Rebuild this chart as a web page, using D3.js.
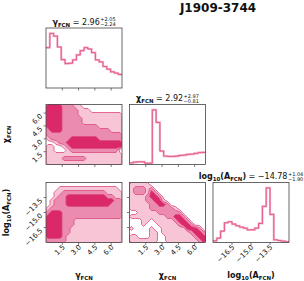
<!DOCTYPE html>
<html lang="en">
<head>
<meta charset="UTF-8">
<title>J1909-3744 corner plot</title>
<script src="https://d3js.org/d3.v7.min.js"></script>
<style>
  body { margin: 0; background: #fff; }
  svg { display: block; }
  text { font-family: "DejaVu Sans", sans-serif; fill: #111; }
</style>
</head>
<body>
<svg id="corner" width="304" height="281"></svg>
<script>
const pulsar = "J1909-3744";

// parameter ranges and ticks
const gammaDomain = [0, 7];
const chiDomain = [0, 7];
const logADomain = [-18, -12];
const gammaTicks = [1.5, 3.0, 4.5, 6.0];
const chiTicks = [1.5, 3.0, 4.5, 6.0];
const logATicks = [-16.5, -15.0, -13.5];

// 1D posteriors, 20 bins over each range (relative counts)
const gammaHist = [122, 165, 157, 124, 86, 74, 75, 85, 100, 113, 122, 118, 107, 85, 79, 65, 57, 49, 45, 41];
const chiHist = [5, 7, 8, 8, 4, 4, 162, 125, 40, 25, 24, 24, 25, 27, 28, 30, 31, 33, 35, 36];
const logAHist = [5, 13, 34, 59, 62, 55, 50, 46, 43, 38, 38, 43, 57, 108, 163, 84, 8, 6, 4, 2];

// median and credible bounds
const medians = [2.96, 2.92, -14.78];
const upper = [2.05, 2.97, 1.04];
const lower = [2.24, 0.81, 1.90];

// 2D credible levels (0 outside, 1..3 inner), rows from top to bottom
const gammaChiGrid = [
  "3333222110000000000",
  "3333222211100000000",
  "3333222211111111111",
  "3333222221111111111",
  "3333222221111111111",
  "3333222222222111111",
  "2333222222222222111",
  "2222222222222222222",
  "1222223333333222222",
  "0012233333333333333",
  "1100123333333333333",
  "1100012222222222220",
  "1111111111111111111",
  "1111222222111111111",
  "1111111111111111111"
];
const gammaLogAGrid = [
  "0000000000000000000",
  "0001111111111111110",
  "0011222222222221111",
  "0012233333333332211",
  "0122233333333333322",
  "0122233333333333222",
  "1222222222222222222",
  "2333222222222222222",
  "3333222222222222222",
  "3333222111111111111",
  "3333222111111111111",
  "3333221111111111111",
  "3333221111111111111",
  "3333211111111111111",
  "2222211111111111111"
];
const chiLogAGrid = [
  "1111100000000000000",
  "1222120000000000000",
  "1222132000000000000",
  "1111233200000000000",
  "1111223310000000000",
  "1111122332000000000",
  "1111122222210000000",
  "0011111222222000000",
  "1111111112233200000",
  "0001101111123320000",
  "0001000111112332000",
  "1000010011111133320",
  "0000011011111112332",
  "1100011001111111233",
  "1111111001111111123"
];

const W = 76, H = 60;
const colX = [46, 129.5, 213];
const rowY = [28, 104.5, 182.5];

const domains = [gammaDomain, chiDomain, logADomain];
const ticks = [gammaTicks, chiTicks, logATicks];
const hists = [gammaHist, chiHist, logAHist];
const grids = { "1-0": gammaChiGrid, "2-0": gammaLogAGrid, "2-1": chiLogAGrid };

const labelParts = [
  [{ t: "γ", b: 1 }, { t: "FCN", b: 1, sub: 1 }],
  [{ t: "χ", b: 1 }, { t: "FCN", b: 1, sub: 1 }],
  [{ t: "log", b: 1 }, { t: "10", b: 1, sub: 1 }, { t: "(A", b: 1 }, { t: "FCN", b: 1, sub: 1 }, { t: ")", b: 1 }]
];

const levelFill = ["#f8c5d7", "#ec8bb0", "#da2868"];
const levelLine = "#dc4a80";
const frameColor = "#444";

const minus = s => s.replace("-", "\u2212");
const fmt = v => minus(d3.format(".1f")(v));
const fmt2 = v => minus(d3.format(".2f")(v));

const svg = d3.select("#corner");

const xScale = i => d3.scaleLinear().domain(domains[i]).range([colX[i], colX[i] + W]);
const yScale = (p, row) => d3.scaleLinear().domain(domains[p]).range([rowY[row] + H, rowY[row]]);

// text with bold parts and subscripts
function mathText(sel, parts, size) {
  let shift = 0;
  parts.forEach(p => {
    const target = p.sub ? size * 0.25 : 0;
    sel.append("tspan")
      .attr("font-weight", p.b ? "bold" : "normal")
      .attr("font-size", p.sub ? size * 0.68 : size)
      .attr("dy", target - shift)
      .text(p.t);
    shift = target;
  });
  return sel;
}

const defs = svg.append("defs");

for (let r = 0; r < 3; r++) {
  for (let c = 0; c <= r; c++) {
    const g = svg.append("g");
    const xs = xScale(c);
    const x0 = colX[c], y0 = rowY[r];

    defs.append("clipPath").attr("id", `clip-${r}-${c}`)
      .append("rect").attr("x", x0).attr("y", y0).attr("width", W).attr("height", H);

    if (r === c) {
      const h = hists[c];
      const ys = d3.scaleLinear().domain([0, d3.max(h) * 1.1]).range([y0 + H, y0]);
      const step = (domains[c][1] - domains[c][0]) / h.length;
      const pts = h.map((v, i) => [domains[c][0] + i * step, v]);
      pts.push([domains[c][1], h[h.length - 1]]);
      const line = d3.line().x(d => xs(d[0])).y(d => ys(d[1])).curve(d3.curveStepAfter);
      const hg = g.append("g").attr("clip-path", `url(#clip-${r}-${c})`);
      hg.append("path").attr("d", line(pts)).attr("fill", "none")
        .attr("stroke", "#f5b3cb").attr("stroke-width", 2.2);
      hg.append("path").attr("d", line(pts)).attr("fill", "none")
        .attr("stroke", "#e2598c").attr("stroke-width", 1);
    } else {
      const grid = grids[`${r}-${c}`];
      const ys = yScale(r, r);
      const ny = grid.length, nx = grid[0].length;
      const xd = domains[c], yd = domains[r];
      const values = grid.join("").split("").map(Number);
      const proj = d3.geoTransform({
        point(gx, gy) {
          this.stream.point(
            xs(xd[0] + gx / nx * (xd[1] - xd[0])),
            ys(yd[1] - gy / ny * (yd[1] - yd[0]))
          );
        }
      });
      const path = d3.geoPath(proj);
      const polys = d3.contours().size([nx, ny]).thresholds([0.5, 1.5, 2.5])(values);
      g.append("g").attr("clip-path", `url(#clip-${r}-${c})`)
        .selectAll("path").data(polys).join("path")
        .attr("d", path)
        .attr("fill", (d, i) => levelFill[i])
        .attr("stroke", levelLine)
        .attr("stroke-width", 0.8)
        .attr("stroke-linejoin", "round");

      // y ticks on the left of off-diagonal panels
      ticks[r].forEach(t => {
        g.append("line").attr("x1", x0).attr("x2", x0 - 2.5)
          .attr("y1", ys(t)).attr("y2", ys(t))
          .attr("stroke", frameColor).attr("stroke-width", 0.7);
        if (c === 0) {
          g.append("text")
            .attr("transform", `translate(${x0 - 3},${ys(t) + 3.5}) rotate(-45)`)
            .attr("text-anchor", "end").attr("font-size", 7)
            .text(fmt(t));
        }
      });
    }

    // x ticks
    ticks[c].forEach(t => {
      g.append("line").attr("x1", xs(t)).attr("x2", xs(t))
        .attr("y1", y0 + H).attr("y2", y0 + H + 2.5)
        .attr("stroke", frameColor).attr("stroke-width", 0.7);
      if (r === 2) {
        g.append("text")
          .attr("transform", `translate(${xs(t) + 3},${y0 + H + 5}) rotate(-45)`)
          .attr("text-anchor", "end").attr("font-size", 7)
          .text(fmt(t));
      }
    });

    g.append("rect").attr("x", x0).attr("y", y0).attr("width", W).attr("height", H)
      .attr("fill", "none").attr("stroke", frameColor).attr("stroke-width", 0.8);
  }
}

// titles over the diagonal panels
for (let i = 0; i < 3; i++) {
  const g = svg.append("g");
  const parts = labelParts[i].concat([{ t: " = " + fmt2(medians[i]) }]);
  const main = mathText(g.append("text").attr("x", 0).attr("y", 0), parts, 8);
  const len = main.node().getComputedTextLength();
  const sup = g.append("text").attr("x", len + 0.5).attr("y", -3.2)
    .attr("font-size", 5).text("+" + upper[i].toFixed(2));
  const sub = g.append("text").attr("x", len + 0.5).attr("y", 1.6)
    .attr("font-size", 5).text("\u2212" + lower[i].toFixed(2));
  const total = len + 0.5 + Math.max(sup.node().getComputedTextLength(), sub.node().getComputedTextLength());
  g.attr("transform", `translate(${colX[i] + W / 2 - total / 2},${rowY[i] - 3.5})`);
}

// axis labels
for (let i = 0; i < 3; i++) {
  mathText(svg.append("text")
    .attr("x", colX[i] + W / 2).attr("y", 278)
    .attr("text-anchor", "middle"), labelParts[i], 8);
}
for (let i = 1; i < 3; i++) {
  mathText(svg.append("text")
    .attr("transform", `translate(8.5,${rowY[i] + H / 2}) rotate(-90)`)
    .attr("text-anchor", "middle"), labelParts[i], 8);
}

svg.append("text").attr("x", 218).attr("y", 12)
  .attr("text-anchor", "middle").attr("font-size", 12).attr("font-weight", "bold")
  .text(pulsar);
</script>
</body>
</html>
